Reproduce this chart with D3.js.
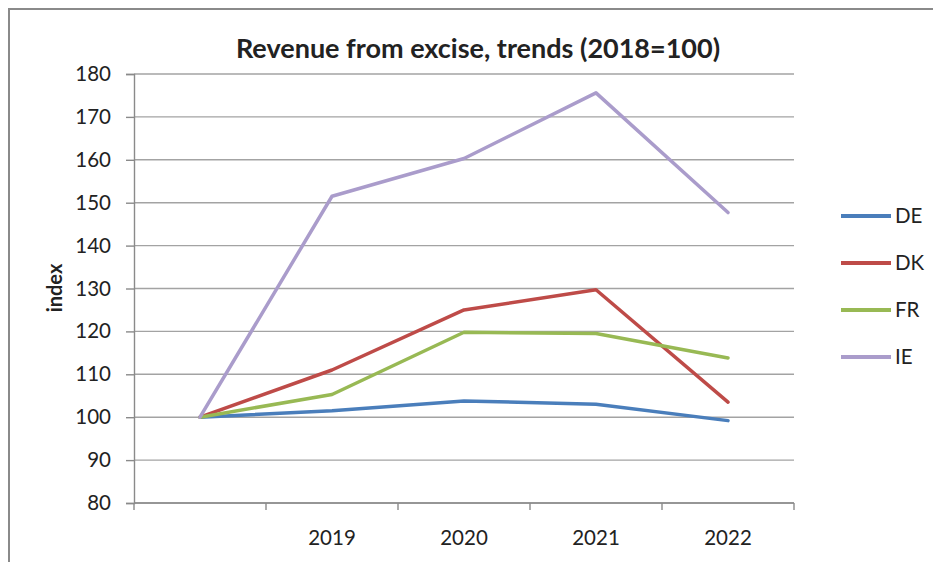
<!DOCTYPE html>
<html>
<head>
<meta charset="utf-8">
<script src="https://cdn.jsdelivr.net/npm/d3@7"></script>
<style>
  html, body { margin: 0; padding: 0; background: #fff; }
  svg { display: block; }
  text { font-family: Lato, "Open Sans", "Liberation Sans", sans-serif; fill: #222; }
</style>
</head>
<body>
<svg id="chart" width="933" height="562"></svg>
<script>
// Revenue from excise, index with 2018 = 100
const years = ["2018", "2019", "2020", "2021", "2022"];
const yearLabels = ["", "2019", "2020", "2021", "2022"];
const countries = ["DE", "DK", "FR", "IE"];
const colors = ["#4a7ebb", "#be4b48", "#98b954", "#aa9ccb"];
const valuesDE = [100, 101.5, 103.8, 103.0, 99.2];
const valuesDK = [100, 111.0, 125.0, 129.7, 103.5];
const valuesFR = [100, 105.3, 119.8, 119.5, 113.8];
const valuesIE = [100, 151.5, 160.3, 175.6, 147.7];
const yTicks = [80, 90, 100, 110, 120, 130, 140, 150, 160, 170, 180];

const seriesValues = [valuesDE, valuesDK, valuesFR, valuesIE];
const series = countries.map((c, i) => ({
  name: c,
  color: colors[i],
  points: years.map((y, j) => ({ year: y, value: seriesValues[i][j] }))
}));

const svg = d3.select("#chart");
const labelSize = 20.5;

// outer frame of the chart object
svg.append("path")
  .attr("d", "M9,570 L9,9 L940,9")
  .attr("fill", "none")
  .attr("stroke", "#8a8a8a")
  .attr("stroke-width", 2);

const plot = { left: 134, right: 794, top: 74, bottom: 503 };

const x = d3.scaleBand().domain(years).range([plot.left, plot.right]);
const y = d3.scaleLinear().domain([80, 180]).range([plot.bottom, plot.top]);

// horizontal gridlines
svg.append("g")
  .selectAll("line")
  .data(yTicks)
  .join("line")
  .attr("x1", plot.left)
  .attr("x2", plot.right)
  .attr("y1", d => y(d))
  .attr("y2", d => y(d))
  .attr("stroke", "#a3a3a3")
  .attr("stroke-width", 1.4);

// y axis
const yAxis = svg.append("g")
  .attr("transform", `translate(${plot.left},0)`)
  .call(d3.axisLeft(y).tickValues(yTicks).tickSize(8).tickPadding(15));
yAxis.select(".domain").attr("stroke", "#8a8a8a").attr("stroke-width", 1.4);
yAxis.selectAll(".tick line").attr("stroke", "#8a8a8a").attr("stroke-width", 1.4);
yAxis.selectAll(".tick text")
  .attr("font-size", labelSize)
  .attr("font-family", "Lato, 'Open Sans', sans-serif")
  .attr("fill", "#222");

// x axis with ticks on the category boundaries
const boundaries = years.map(d => x(d)).concat([plot.right]);
const xg = svg.append("g");
xg.append("line")
  .attr("x1", plot.left).attr("x2", plot.right)
  .attr("y1", plot.bottom).attr("y2", plot.bottom)
  .attr("stroke", "#8a8a8a").attr("stroke-width", 1.4);
xg.selectAll("line.tick")
  .data(boundaries)
  .join("line")
  .attr("class", "tick")
  .attr("x1", d => d).attr("x2", d => d)
  .attr("y1", plot.bottom).attr("y2", plot.bottom + 7)
  .attr("stroke", "#8a8a8a").attr("stroke-width", 1.4);
xg.selectAll("text")
  .data(years)
  .join("text")
  .attr("x", d => x(d) + x.bandwidth() / 2)
  .attr("y", plot.bottom + 42)
  .attr("text-anchor", "middle")
  .attr("font-size", labelSize)
  .text((d, i) => yearLabels[i]);

// series lines
const line = d3.line()
  .x(d => x(d.year) + x.bandwidth() / 2)
  .y(d => y(d.value));

svg.append("g")
  .selectAll("path")
  .data(series)
  .join("path")
  .attr("d", d => line(d.points))
  .attr("fill", "none")
  .attr("stroke", d => d.color)
  .attr("stroke-width", 3.5)
  .attr("stroke-linejoin", "round")
  .attr("stroke-linecap", "round");

// title
svg.append("text")
  .attr("x", 478)
  .attr("y", 58)
  .attr("text-anchor", "middle")
  .attr("font-size", 27)
  .attr("font-weight", "bold")
  .text("Revenue from excise, trends (2018=100)");

// y axis title
svg.append("text")
  .attr("transform", "translate(62,288) rotate(-90)")
  .attr("text-anchor", "middle")
  .attr("font-size", 20)
  .attr("font-weight", "bold")
  .text("index");

// legend
const legend = svg.append("g")
  .selectAll("g")
  .data(series)
  .join("g")
  .attr("transform", (d, i) => `translate(841,${216 + i * 47})`);
legend.append("line")
  .attr("x1", 0).attr("x2", 50)
  .attr("stroke", d => d.color)
  .attr("stroke-width", 4);
legend.append("text")
  .attr("x", 54)
  .attr("y", 7)
  .attr("font-size", labelSize)
  .text(d => d.name);
</script>
</body>
</html>
